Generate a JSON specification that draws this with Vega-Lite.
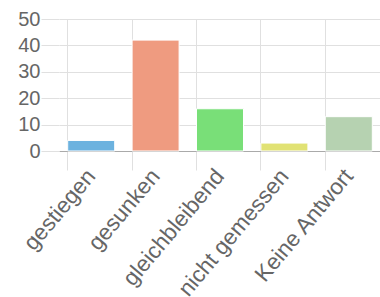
{
  "$schema": "https://vega.github.io/schema/vega-lite/v6.json",
  "width": 322,
  "height": 132,
  "autosize": {"type": "none"},
  "padding": {"left": 59, "top": 19, "right": 0, "bottom": 146},
  "background": "white",
  "config": {"view": {"stroke": null}, "font": "Liberation Sans"},
  "data": {"values": [
    {"kategorie": "gestiegen", "anzahl": 4},
    {"kategorie": "gesunken", "anzahl": 42},
    {"kategorie": "gleichbleibend", "anzahl": 16},
    {"kategorie": "nicht gemessen", "anzahl": 3},
    {"kategorie": "Keine Antwort", "anzahl": 13}
  ]},
  "mark": {"type": "bar", "stroke": "white", "strokeWidth": 1},
  "encoding": {
    "x": {
      "field": "kategorie", "type": "nominal", "sort": null,
      "scale": {"paddingInner": 0.27, "paddingOuter": 0.135},
      "axis": {
        "title": null, "labelAngle": -50, "labelAlign": "right", "labelBaseline": "middle",
        "labelFontSize": 22.5, "labelColor": "#666", "labelLimit": 300,
        "bandPosition": 0, "labelOffset": 0, "tickSize": 19, "tickColor": "#e0e0e0",
        "grid": true, "gridColor": "#e0e0e0", "domainColor": "#aaa", "labelPadding": 2
      }
    },
    "y": {
      "field": "anzahl", "type": "quantitative",
      "scale": {"domain": [0, 50], "nice": false},
      "axis": {
        "title": null, "values": [0, 10, 20, 30, 40, 50], "labelFontSize": 20, "labelColor": "#666",
        "tickSize": 18, "tickColor": "#e0e0e0", "gridColor": "#e0e0e0", "domain": false, "labelPadding": 1
      }
    },
    "color": {
      "field": "kategorie", "type": "nominal", "sort": null, "legend": null,
      "scale": {
        "domain": ["gestiegen", "gesunken", "gleichbleibend", "nicht gemessen", "Keine Antwort"],
        "range": ["#6cb2df", "#ef9b80", "#79df78", "#e1e274", "#b6d2b1"]
      }
    }
  }
}
